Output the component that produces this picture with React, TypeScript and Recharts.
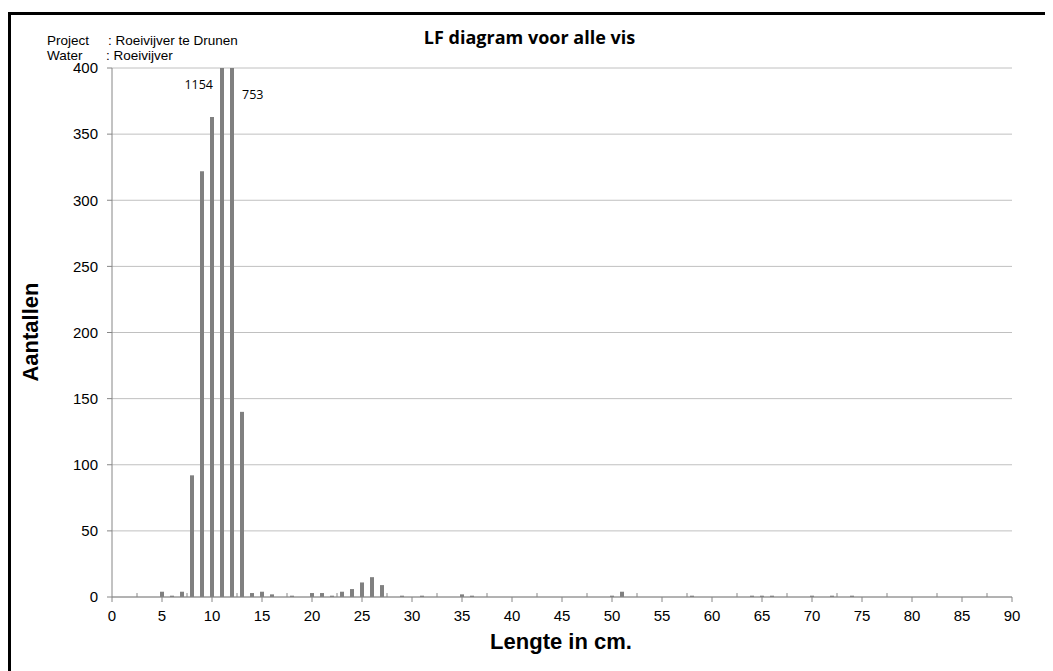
import {
  Bar,
  BarChart,
  CartesianGrid,
  LabelList,
  ReferenceLine,
  XAxis,
  YAxis,
} from "recharts";

// Lengteklassen (cm) met aantallen; 11 en 12 cm lopen boven de as uit.
const lengths = [
  5, 6, 7, 8, 9, 10, 11, 12, 13, 14, 15, 16, 18, 20, 21, 22, 23, 24, 25, 26,
  27, 29, 31, 35, 36, 50, 51, 58, 64, 65, 66, 70, 72, 74,
];
const counts = [
  4, 1, 4, 92, 322, 363, 1154, 753, 140, 3, 4, 2, 1, 3, 3, 1, 4, 6, 11, 15,
  9, 1, 1, 2, 1, 1, 4, 1, 1, 1, 1, 1, 1, 1,
];
const xTicks = [0, 5, 10, 15, 20, 25, 30, 35, 40, 45, 50, 55, 60, 65, 70, 75, 80, 85, 90];
const minorTicks = xTicks.slice(0, -1).map((t) => t + 2.5);
const yTicks = [0, 50, 100, 150, 200, 250, 300, 350, 400];

const rows = lengths.map((l, i) => ({ lengte: l, aantal: counts[i] }));

const axisFont = "'Liberation Sans', Arial, sans-serif";
const labelFont = "'Open Sans', 'Noto Sans', sans-serif";

// Waarden boven 400 krijgen het getal naast de afgekapte staaf.
function OverflowLabel(props: any) {
  const { x, width, value, index } = props;
  if (value <= 400) return null;
  const left = index === 6;
  return (
    <text
      x={left ? x - 7 : x + width + 8}
      y={left ? 74 : 84}
      textAnchor={left ? "end" : "start"}
      fontSize={12.5}
      fontFamily={labelFont}
      fill="#000"
    >
      {value}
    </text>
  );
}

export default function App() {
  return (
    <div style={{ position: "relative", width: 1043, height: 700 }}>
      <style>{"html,body{overflow:hidden}"}</style>
      <div
        style={{
          position: "absolute",
          left: 0,
          top: 4,
          width: 1043,
          height: 700,
          border: "3px solid #000",
          boxSizing: "border-box",
        }}
      />
      <div
        style={{
          position: "absolute",
          left: 39,
          top: 26,
          fontFamily: axisFont,
          fontSize: 13.5,
          lineHeight: "14.5px",
          color: "#000",
        }}
      >
        <div>
          <span style={{ display: "inline-block", width: 61 }}>Project</span>: Roeivijver te Drunen
        </div>
        <div>
          <span style={{ display: "inline-block", width: 59 }}>Water</span>: Roeivijver
        </div>
      </div>
      <div
        style={{
          position: "absolute",
          left: 0,
          width: 1043,
          top: 17,
          textAlign: "center",
          fontFamily: labelFont,
          fontWeight: 700,
          fontSize: 18,
          color: "#000",
        }}
      >
        LF diagram voor alle vis
      </div>
      <div style={{ position: "absolute", left: 3, top: 7 }}>
        <BarChart
          width={1034}
          height={650}
          data={rows}
          margin={{ top: 53, right: 33, bottom: 38, left: 41 }}
          barSize={4}
        >
          <CartesianGrid vertical={false} stroke="#c0c0c0" />
          <XAxis
            dataKey="lengte"
            type="number"
            domain={[0, 90]}
            ticks={xTicks}
            interval={0}
            height={30}
            stroke="#868686"
            tickSize={5}
            tickMargin={8}
            tick={{ fill: "#000", fontSize: 15, fontFamily: axisFont }}
            label={{
              content: () => (
                <text
                  x={550}
                  y={634}
                  textAnchor="middle"
                  fontSize={22}
                  fontWeight={700}
                  fontFamily={axisFont}
                  fill="#000"
                >
                  Lengte in cm.
                </text>
              ),
            }}
          />
          <YAxis
            type="number"
            domain={[0, 400]}
            ticks={yTicks}
            allowDataOverflow
            width={60}
            stroke="#868686"
            tickSize={5}
            tickMargin={9}
            tick={{ fill: "#000", fontSize: 15, fontFamily: axisFont }}
            label={{
              content: () => (
                <text
                  x={27}
                  y={317}
                  transform="rotate(-90 27 317)"
                  textAnchor="middle"
                  fontSize={22}
                  fontWeight={700}
                  fontFamily={axisFont}
                  fill="#000"
                >
                  Aantallen
                </text>
              ),
            }}
          />
          {minorTicks.map((t) => (
            <ReferenceLine
              key={t}
              segment={[
                { x: t, y: 0 },
                { x: t, y: 3 },
              ]}
              stroke="#868686"
            />
          ))}
          <Bar dataKey="aantal" fill="#808080" isAnimationActive={false}>
            <LabelList dataKey="aantal" content={OverflowLabel} />
          </Bar>
        </BarChart>
      </div>
    </div>
  );
}
